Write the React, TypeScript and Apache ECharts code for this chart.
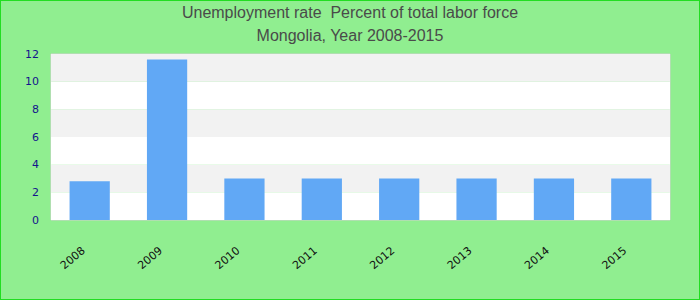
import React, { useEffect, useRef } from "react";
import * as echarts from "echarts";

const titleLines = ["Unemployment rate  Percent of total labor force", "Mongolia, Year 2008-2015"];
const years = ["2008", "2009", "2010", "2011", "2012", "2013", "2014", "2015"];
const unemployment = [2.8, 11.6, 3.0, 3.0, 3.0, 3.0, 3.0, 3.0];
const yMin = 0;
const yMax = 12;
const yStep = 2;

export default function App() {
  const ref = useRef<HTMLDivElement>(null);
  useEffect(() => {
    document.body.style.margin = "0";
    if (!ref.current) return;
    const chart = echarts.init(ref.current, undefined, { renderer: "svg" });
    chart.setOption({
      animation: false,
      backgroundColor: "transparent",
      title: [
        {
          text: titleLines[0],
          left: "center",
          top: -2,
          textStyle: { color: "#4a4a4a", fontSize: 16, fontWeight: "normal", fontFamily: "Liberation Sans, Arial, sans-serif" },
        },
        {
          text: titleLines[1],
          left: "center",
          top: 21,
          textStyle: { color: "#4a4a4a", fontSize: 16, fontWeight: "normal", fontFamily: "Liberation Sans, Arial, sans-serif" },
        },
      ],
      grid: {
        left: 50,
        right: 29,
        top: 53,
        bottom: 79,
        show: true,
        borderColor: "#d0d0d0",
        borderWidth: 1,
        backgroundColor: "transparent",
        containLabel: false,
      },
      xAxis: {
        type: "category",
        data: years,
        axisLine: { show: false },
        axisTick: { show: false },
        axisLabel: {
          rotate: 40,
          margin: 24,
          padding: [0, 8, 0, 0],
          color: "#111",
          fontSize: 11,
          fontFamily: "DejaVu Sans, sans-serif",
          interval: 0,
        },
      },
      yAxis: {
        type: "value",
        min: yMin,
        max: yMax,
        interval: yStep,
        axisLine: { show: false },
        axisTick: { show: false },
        splitLine: { show: false },
        splitArea: { show: true, areaStyle: { color: ["#ffffff", "#f2f2f2"] } },
        axisLabel: {
          margin: 12,
          color: "#14148c",
          fontSize: 11,
          fontFamily: "DejaVu Sans, sans-serif",
        },
      },
      series: [
        {
          type: "bar",
          data: unemployment,
          barWidth: "52%",
          itemStyle: { color: "#61a8f5" },
        },
      ],
    });
    return () => chart.dispose();
  }, []);
  return (
    <div
      style={{
        width: 700,
        height: 300,
        boxSizing: "border-box",
        border: "1px solid #22dd22",
        background: "#90ee90",
      }}
    >
      <div ref={ref} style={{ width: 698, height: 298 }} />
    </div>
  );
}
